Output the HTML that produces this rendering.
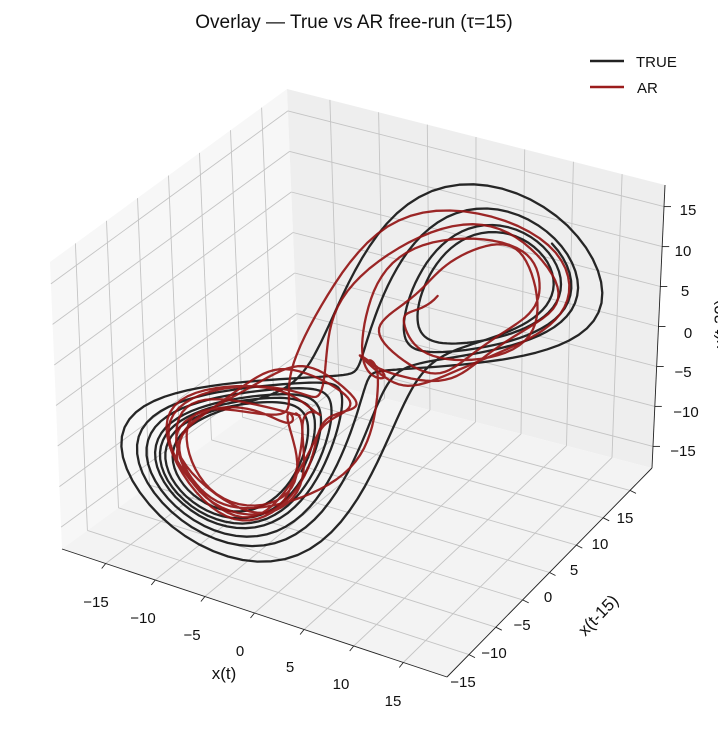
<!DOCTYPE html>
<html><head><meta charset="utf-8">
<style>
html,body{margin:0;padding:0;background:#fff;}
svg{display:block;font-family:"Liberation Sans","DejaVu Sans",sans-serif;}
</style></head>
<body>
<svg id="s" width="718" height="733" viewBox="0 0 718 733" xmlns="http://www.w3.org/2000/svg">
<rect width="718" height="733" fill="#fff"/>
<g id="panes"></g>
<g id="grid" stroke="#c4c4c4" stroke-width="0.9" fill="none"></g>
<g id="curves" fill="none" stroke-linejoin="round" stroke-linecap="round"></g>
<g id="axes" stroke="#222" stroke-width="0.9" fill="none"></g>
<text x="354" y="28" font-size="19" text-anchor="middle" fill="#111">Overlay — True vs AR free-run (τ=15)</text>
<line x1="590" y1="61" x2="624" y2="61" stroke="#222" stroke-width="2.5"/>
<text x="636" y="67" font-size="15" fill="#111">TRUE</text>
<line x1="590" y1="87" x2="624" y2="87" stroke="#9b1c1c" stroke-width="2.5"/>
<text x="637" y="93" font-size="15" fill="#111">AR</text>
<g font-size="15" fill="#111" text-anchor="middle">
<text x="96" y="607">−15</text><text x="143" y="623">−10</text><text x="192" y="640">−5</text>
<text x="240" y="656">0</text><text x="290" y="672">5</text><text x="341" y="689">10</text><text x="393" y="706">15</text>
<text x="625" y="523">15</text><text x="600" y="549">10</text><text x="574" y="575">5</text>
<text x="548" y="602">0</text><text x="522" y="630">−5</text><text x="494" y="658">−10</text><text x="463" y="687">−15</text>
<text x="688" y="215">15</text><text x="683" y="256">10</text><text x="685" y="296">5</text>
<text x="688" y="338">0</text><text x="683" y="377">−5</text><text x="686" y="417">−10</text><text x="683" y="456">−15</text>
<text x="224" y="679" font-size="17">x(t)</text>
<text x="598" y="621" font-size="17" transform="rotate(-46 598 615)">x(t-15)</text>
<text x="726" y="336" font-size="17" transform="rotate(-90 720 330)">x(t-30)</text>
</g>
</svg>
<script>
(function(){
var C={'000':[62,549],'100':[447,677],'110':[652,468],'010':[299,376],'001':[50,262],'101':[445,377],'111':[665,185],'011':[287,89]};
var LX=19.4,LY=19.1,LZ=17.7,D=9;
function L(a,b,t){return [a[0]+(b[0]-a[0])*t,a[1]+(b[1]-a[1])*t];}
function T(u,v,w){
 var a=L(C['000'],C['100'],u),b=L(C['010'],C['110'],u),c=L(C['001'],C['101'],u),d=L(C['011'],C['111'],u);
 var e=L(a,b,v),f=L(c,d,v);return L(e,f,w);}
function P(x,y,z){return T((x+LX)/(2*LX),(y+LY)/(2*LY),(z+LZ)/(2*LZ));}
var NS='http://www.w3.org/2000/svg';
function el(g,tag,at){var e=document.createElementNS(NS,tag);for(var k in at)e.setAttribute(k,at[k]);document.getElementById(g).appendChild(e);return e;}
function poly(g,pts,fill){el(g,'polygon',{points:pts.map(function(p){return p[0].toFixed(1)+','+p[1].toFixed(1)}).join(' '),fill:fill});}
poly('panes',[T(0,0,0),T(0,1,0),T(0,1,1),T(0,0,1)],'#f7f7f7');
poly('panes',[T(0,1,0),T(1,1,0),T(1,1,1),T(0,1,1)],'#eeeeee');
poly('panes',[T(0,0,0),T(1,0,0),T(1,1,0),T(0,1,0)],'#f3f3f3');
function ln(g,a,b){el(g,'line',{x1:a[0].toFixed(1),y1:a[1].toFixed(1),x2:b[0].toFixed(1),y2:b[1].toFixed(1)});}
for(var t=-15;t<=15;t+=5){
 var ux=(t+LX)/(2*LX),vy=(t+LY)/(2*LY),wz=(t+LZ)/(2*LZ);
 ln('grid',T(ux,0,0),T(ux,1,0));ln('grid',T(ux,1,0),T(ux,1,1));
 ln('grid',T(0,vy,0),T(1,vy,0));ln('grid',T(0,vy,0),T(0,vy,1));
 ln('grid',T(0,0,wz),T(0,1,wz));ln('grid',T(0,1,wz),T(1,1,wz));
 var p=T(ux,0,0);ln('axes',p,[p[0]-4,p[1]+5]);
 p=T(1,vy,0);ln('axes',p,[p[0]+6,p[1]+3]);
 p=T(1,1,wz);ln('axes',p,[p[0]+7,p[1]]);
}
ln('axes',T(0,0,0),T(1,0,0));ln('axes',T(1,0,0),T(1,1,0));ln('axes',T(1,1,0),T(1,1,1));
function lorenz(s0,n,noise){
 var s=s0.slice(),dt=0.01,xs=[];
 function f(s){return [10*(s[1]-s[0]),s[0]*(28-s[2])-s[1],s[0]*s[1]-8/3*s[2]];}
 for(var i=0;i<n;i++){
  var k1=f(s),k2=f(s.map(function(v,j){return v+dt/2*k1[j]})),k3=f(s.map(function(v,j){return v+dt/2*k2[j]})),k4=f(s.map(function(v,j){return v+dt*k3[j]}));
  s=s.map(function(v,j){return v+dt/6*(k1[j]+2*k2[j]+2*k3[j]+k4[j]);});
  xs.push(s[0]+(noise?noise(i,s[0]):0));
 }
 return xs;}
function path(xs,start,n,col,w,op){
 var d='';for(var i=start;i<start+n&&i<xs.length;i++){var p=P(xs[i],xs[i-D],xs[i-2*D]);d+=(i==start?'M':'L')+p[0].toFixed(1)+','+p[1].toFixed(1);}
 el('curves','path',{d:d,stroke:col,'stroke-width':w,'stroke-opacity':op});}
var xt=lorenz([1,1,1],2100,null);
path(xt,1200,880,'#1a1a1a',2.3,0.95);
var xa=lorenz([-3,2,20],2100,function(i,x){return -0.1*x+1.3*Math.sin(i*0.19)+0.8*Math.sin(i*0.33+1);});
path(xa,1300,820,'#941515',2.3,0.92);
})();
</script>
</body></html>
